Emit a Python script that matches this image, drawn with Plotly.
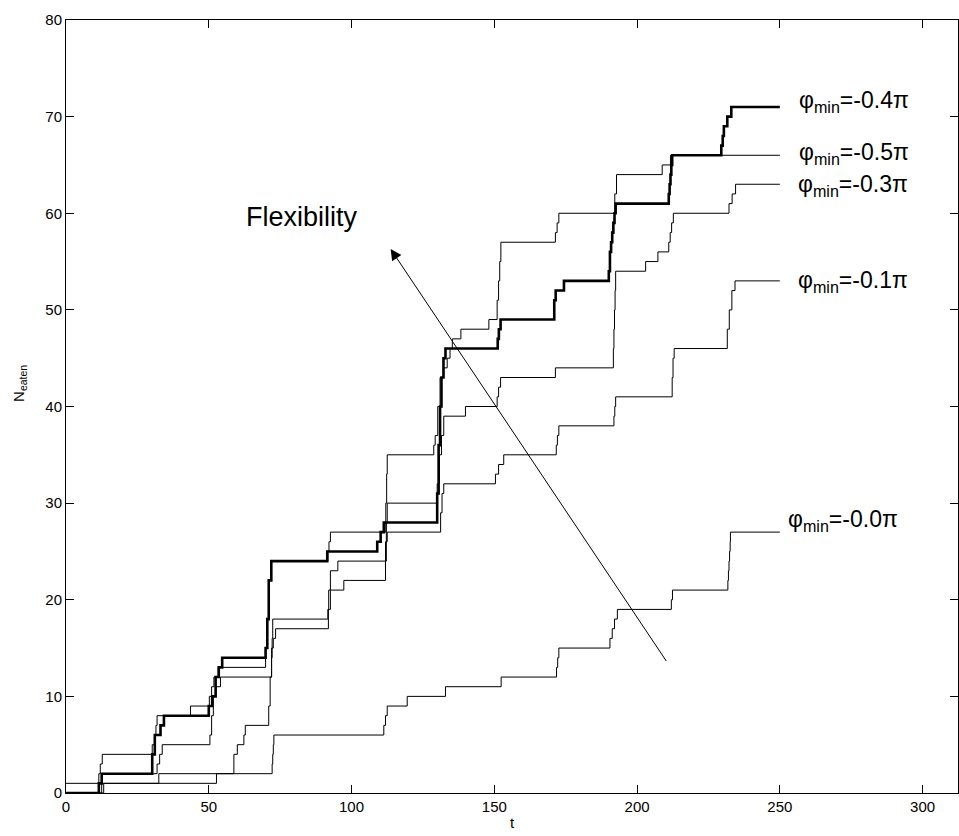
import plotly.graph_objects as go

# (t, N_eaten) step points: N holds from t until the next point
phi_04 = [(0, 0), (11.5, 1), (12.5, 2), (30.2, 4), (31.1, 6), (33.1, 7), (34.3, 8),
          (50.0, 9), (51.2, 10), (52.4, 12), (53.5, 13), (54.7, 14), (69.9, 15),
          (70.5, 18), (71.0, 22), (71.9, 24), (91.5, 25), (109.0, 26), (110.2, 27),
          (111.3, 28), (130.0, 31), (130.5, 36), (131.0, 40), (131.5, 43), (132.2, 45),
          (132.9, 46), (151.2, 47), (151.6, 48), (152.2, 49), (171.0, 51), (171.5, 52),
          (174.4, 53), (190.1, 54), (190.5, 56), (190.9, 57), (191.3, 58), (191.7, 59),
          (192.1, 60), (192.5, 61), (211.1, 62), (211.4, 63), (211.7, 64), (212.0, 65),
          (212.3, 66), (229.5, 67), (230.0, 68), (230.4, 69), (231.6, 70), (233.0, 71),
          (250, 71)]

phi_05 = [(0, 1), (11.5, 2), (12.0, 3), (12.7, 4), (30.2, 5), (31.0, 6), (31.5, 7),
          (31.9, 8), (43.6, 9), (50.2, 10), (51.0, 11), (51.8, 12), (53.3, 13),
          (69.9, 15), (70.5, 18), (71.0, 22), (71.9, 24), (91.7, 25), (92.1, 26),
          (92.6, 27), (112.0, 30), (112.3, 33), (112.5, 35), (128.8, 36), (129.3, 37),
          (130.2, 40), (131.0, 43), (132.3, 44), (133.5, 45), (134.5, 46), (135.3, 47),
          (138.3, 48), (148.1, 49), (151.0, 51), (151.5, 53), (151.9, 55), (152.3, 57),
          (171.4, 58), (172.0, 59), (172.6, 60), (192.2, 62), (192.8, 64), (208.8, 65),
          (211.7, 66), (250, 66)]

phi_03 = [(0, 0), (11.5, 1), (12.5, 2), (31.9, 3), (32.8, 4), (33.7, 5), (50.4, 6),
          (51.0, 8), (51.6, 10), (52.5, 11), (54.1, 12), (72.0, 14), (72.2, 16),
          (72.4, 18), (91.7, 19), (92.0, 21), (92.6, 23), (95.2, 24), (111.9, 26),
          (112.2, 28), (112.5, 30), (130.0, 32), (130.8, 35), (131.5, 37), (132.3, 39),
          (139.9, 40), (151.0, 41), (151.5, 42), (152.2, 43), (171.4, 44), (191.7, 46),
          (191.9, 48), (192.1, 50), (192.3, 52), (192.5, 54), (203.0, 55), (207.3, 56),
          (211.1, 57), (211.6, 58), (212.1, 59), (212.7, 60), (232.2, 61), (233.3, 62),
          (234.5, 63), (250, 63)]

phi_01 = [(0, 0), (12.5, 1), (32.5, 2), (58.8, 4), (60.0, 5), (62.3, 6), (62.8, 7),
          (71.0, 9), (71.5, 12), (72.0, 15), (72.6, 16), (73.4, 17), (91.9, 19),
          (92.6, 21), (97.3, 22), (111.9, 24), (112.2, 26), (112.5, 27), (131.2, 29),
          (131.7, 31), (132.3, 32), (150.4, 33), (151.5, 34), (153.3, 35), (171.7, 36),
          (172.1, 37), (172.6, 38), (191.9, 39), (192.2, 40), (192.5, 41), (212.3, 43),
          (212.6, 45), (213.0, 46), (231.6, 48), (232.3, 50), (233.2, 52), (234.3, 53),
          (250, 53)]

phi_00 = [(0, 0), (13.2, 1), (52.7, 2), (72.2, 3), (72.4, 4), (72.6, 5), (72.8, 6),
          (111.3, 7), (111.9, 8), (112.5, 9), (119.5, 10), (132.9, 11), (152.4, 12),
          (171.8, 13), (172.2, 14), (172.6, 15), (190.5, 16), (191.3, 17), (192.1, 18),
          (193.1, 19), (212.0, 20), (212.4, 21), (231.8, 22), (232.0, 23), (232.2, 24),
          (232.4, 25), (232.6, 26), (232.7, 27), (250, 27)]

series = [
    ("-0.5", phi_05, 1.0),
    ("-0.3", phi_03, 1.0),
    ("-0.1", phi_01, 1.0),
    ("-0.0", phi_00, 1.0),
    ("-0.4", phi_04, 2.6),
]

label_names = ["-0.4", "-0.5", "-0.3", "-0.1", "-0.0"]
label_t = [256.0, 256.0, 255.5, 255.5, 252.0]
label_n = [71.6, 66.2, 62.9, 52.9, 28.2]

arrow_tail = (210.6, 13.5)
arrow_tip = (113.7, 56.3)
flex_pos = (82.8, 59.6)

x_ticks = [0, 50, 100, 150, 200, 250, 300]
y_ticks = [0, 10, 20, 30, 40, 50, 60, 70, 80]

FONT = "Liberation Sans, Arial, sans-serif"

fig = go.Figure()
for name, pts, w in series:
    fig.add_trace(go.Scatter(
        x=[p[0] for p in pts], y=[p[1] for p in pts],
        mode="lines", line=dict(color="black", width=w, shape="hv"),
        name=name, showlegend=False, hoverinfo="skip"))

annotations = []
for nm, lt, ln in zip(label_names, label_t, label_n):
    annotations.append(dict(
        x=lt, y=ln, xref="x", yref="y", xanchor="left", yanchor="middle",
        text="\u03c6<sub>min</sub>=" + nm + "\u03c0", showarrow=False,
        font=dict(size=23, color="black", family=FONT)))

annotations.append(dict(
    x=arrow_tip[0], y=arrow_tip[1], ax=arrow_tail[0], ay=arrow_tail[1],
    xref="x", yref="y", axref="x", ayref="y", text="", showarrow=True,
    arrowhead=2, arrowsize=2.2, arrowwidth=1, arrowcolor="black"))

annotations.append(dict(
    x=flex_pos[0], y=flex_pos[1], xref="x", yref="y", text="Flexibility",
    showarrow=False, xanchor="center", yanchor="middle",
    font=dict(size=27, color="black", family=FONT)))

annotations.append(dict(
    x=-0.052, y=0.53, xref="paper", yref="paper", text="N<sub>eaten</sub>",
    textangle=-90, showarrow=False, xanchor="center", yanchor="middle",
    font=dict(size=15, color="black", family=FONT)))

annotations.append(dict(
    x=0.5, y=-0.038, xref="paper", yref="paper", text="t",
    showarrow=False, xanchor="center", yanchor="middle",
    font=dict(size=15, color="black", family=FONT)))

axis_common = dict(showgrid=False, zeroline=False, showline=True, linecolor="black",
                   linewidth=1, mirror="ticks", ticks="inside", ticklen=8,
                   tickcolor="black", tickwidth=1,
                   tickfont=dict(size=15, color="black", family=FONT))

fig.update_layout(
    width=959, height=836,
    margin=dict(l=66, r=1, t=20, b=43),
    paper_bgcolor="white", plot_bgcolor="white",
    xaxis=dict(range=[0, 312.4], tickvals=x_ticks, **axis_common),
    yaxis=dict(range=[0, 80], tickvals=y_ticks, **axis_common),
    annotations=annotations,
    showlegend=False,
)

fig.write_html("out.html")
